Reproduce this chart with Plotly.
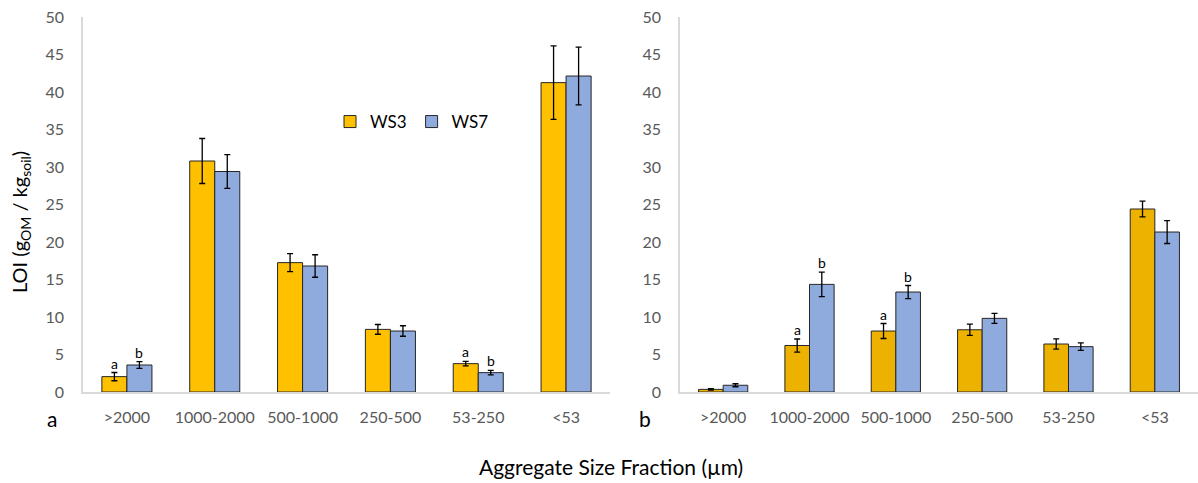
import plotly.graph_objects as go

categories = [">2000", "1000-2000", "500-1000", "250-500", "53-250", "<53"]
series_names = ["WS3", "WS7"]

# Panel a
a_ws3 = [2.05, 30.8, 17.25, 8.35, 3.78, 41.25]
a_ws3_err = [0.55, 3.0, 1.2, 0.65, 0.3, 4.9]
a_ws7 = [3.6, 29.4, 16.8, 8.13, 2.58, 42.13]
a_ws7_err = [0.45, 2.25, 1.5, 0.7, 0.3, 3.85]
a_letters_ws3 = ["a", "", "", "", "a", ""]
a_letters_ws7 = ["b", "", "", "", "b", ""]

# Panel b
b_ws3 = [0.35, 6.2, 8.13, 8.3, 6.4, 24.4]
b_ws3_err = [0.1, 0.87, 1.0, 0.76, 0.69, 1.05]
b_ws7 = [0.9, 14.35, 13.33, 9.82, 6.05, 21.33]
b_ws7_err = [0.2, 1.64, 0.87, 0.67, 0.49, 1.53]
b_letters_ws3 = ["", "a", "a", "", "", ""]
b_letters_ws7 = ["", "b", "b", "", "", ""]

W, H = 1198, 483
FONT = "Lato"
GRAY = "#595959"
AXIS = "#D9D9D9"
BLUE = "#8FAADC"
ORANGE_A = "#FFC000"
ORANGE_B = "#EDB200"
OUTLINE = "#262626"

fig = go.Figure()

def add_bar(x, y, err, name, color, xa, ya, show):
    fig.add_trace(go.Bar(
        x=x, y=y, name=name, xaxis=xa, yaxis=ya, showlegend=show,
        legendgroup=name,
        marker=dict(color=color, line=dict(color=OUTLINE, width=1)),
        error_y=dict(type="data", array=err, visible=True, color="#000000", thickness=1.3, width=3),
    ))

add_bar(categories, a_ws3, a_ws3_err, "WS3", ORANGE_A, "x", "y", True)
add_bar(categories, a_ws7, a_ws7_err, "WS7", BLUE, "x", "y", True)
add_bar(categories, b_ws3, b_ws3_err, "WS3", ORANGE_B, "x2", "y2", False)
add_bar(categories, b_ws7, b_ws7_err, "WS7", BLUE, "x2", "y2", False)

BARGAP = 0.43
half = (1 - BARGAP) / 4

annotations = []
def add_letters(vals, errs, letters, offset, xref, yref):
    for i, (v, e, t) in enumerate(zip(vals, errs, letters)):
        if t:
            annotations.append(dict(x=i + offset, y=v + e, xref=xref, yref=yref, text=t,
                                    showarrow=False, xanchor="center", yanchor="bottom", yshift=-1,
                                    font=dict(family=FONT, size=14, color="#000000")))

add_letters(a_ws3, a_ws3_err, a_letters_ws3, -half, "x", "y")
add_letters(a_ws7, a_ws7_err, a_letters_ws7, half, "x", "y")
add_letters(b_ws3, b_ws3_err, b_letters_ws3, -half, "x2", "y2")
add_letters(b_ws7, b_ws7_err, b_letters_ws7, half, "x2", "y2")

annotations += [
    dict(x=20 / W, y=1 - 222 / H, xref="paper", yref="paper", text="LOI (g<sub>OM</sub> / kg<sub>soil</sub>)",
         textangle=-90, showarrow=False, xanchor="center", yanchor="middle",
         font=dict(family=FONT, size=20, color="#000000")),
    dict(x=52 / W, y=1 - 418 / H, xref="paper", yref="paper", text="a", showarrow=False,
         xanchor="center", yanchor="middle", font=dict(family=FONT, size=21, color="#000000")),
    dict(x=645 / W, y=1 - 418 / H, xref="paper", yref="paper", text="b", showarrow=False,
         xanchor="center", yanchor="middle", font=dict(family=FONT, size=21, color="#000000")),
    dict(x=611 / W, y=1 - 466 / H, xref="paper", yref="paper", text="Aggregate Size Fraction (µm)",
         showarrow=False, xanchor="center", yanchor="middle",
         font=dict(family=FONT, size=21, color="#000000")),
]

ydom = [1 - 392 / H, 1 - 17 / H]
xaxis_common = dict(type="category", showline=True, linecolor=AXIS, linewidth=1.5, ticks="",
                    showgrid=False, zeroline=False, automargin=False,
                    tickfont=dict(family=FONT, size=16, color=GRAY), ticklabelstandoff=10)
yaxis_common = dict(range=[0, 50], dtick=5, showline=True, linecolor=AXIS, linewidth=1.5, ticks="",
                    showgrid=False, zeroline=False, domain=ydom, automargin=False,
                    tickfont=dict(family=FONT, size=16, color=GRAY), ticklabelstandoff=14)

fig.update_layout(
    width=W, height=H,
    margin=dict(l=0, r=0, t=0, b=0, autoexpand=False),
    paper_bgcolor="white", plot_bgcolor="white",
    barmode="group", bargap=BARGAP, bargroupgap=0,
    xaxis=dict(domain=[83 / W, 610 / W], anchor="y", **xaxis_common),
    yaxis=dict(anchor="x", **yaxis_common),
    xaxis2=dict(domain=[680 / W, 1.0], anchor="y2", **xaxis_common),
    yaxis2=dict(anchor="x2", **yaxis_common),
    legend=dict(orientation="h", x=330 / W, y=1 - 104 / H, xanchor="left", yanchor="top",
                font=dict(family=FONT, size=17, color="#000000"), bgcolor="rgba(0,0,0,0)",
                itemwidth=30, tracegroupgap=0),
    annotations=annotations,
    showlegend=True,
)

fig.write_html("out.html")
